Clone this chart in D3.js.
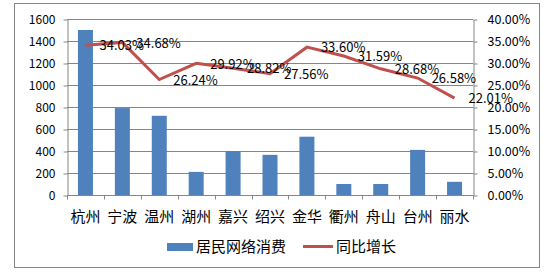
<!DOCTYPE html>
<html>
<head>
<meta charset="utf-8">
<style>
  body { margin: 0; background: #fff; }
  text { font-family: "Noto Sans CJK SC", "Noto Sans", sans-serif; fill: #000; }
</style>
</head>
<body>
<script src="https://cdn.jsdelivr.net/npm/d3@7"></script>
<svg width="550" height="272"></svg>
<script>
const cities = ["杭州", "宁波", "温州", "湖州", "嘉兴", "绍兴", "金华", "衢州", "舟山", "台州", "丽水"]
const spending = [1500, 790, 720, 210, 400, 365, 530, 100, 100, 410, 120]
const growth = [34.03, 34.68, 26.24, 29.92, 28.82, 27.56, 33.60, 31.59, 28.68, 26.58, 22.01]
const leftTicks = [0, 200, 400, 600, 800, 1000, 1200, 1400, 1600]
const rightTicks = [0, 5, 10, 15, 20, 25, 30, 35, 40]
const seriesNames = ["居民网络消费", "同比增长"]

const blue = "#4f81bd", red = "#c0504d", grid = "#868686"
const svg = d3.select("svg")

// outer chart frame
svg.append("rect")
    .attr("x", 14.5).attr("y", 3.5)
    .attr("width", 525).attr("height", 264)
    .attr("fill", "none").attr("stroke", grid)

const plotL = 67, plotR = 473, plotT = 19, plotB = 195

const x = d3.scaleBand().domain(cities).range([plotL, plotR])
const yL = d3.scaleLinear().domain([0, 1600]).range([plotB, plotT])
const yR = d3.scaleLinear().domain([0, 40]).range([plotB, plotT])

// gridlines
svg.append("g").selectAll("line")
    .data(leftTicks.slice(1))
    .enter().append("line")
    .attr("x1", plotL).attr("x2", plotR)
    .attr("y1", d => Math.round(yL(d)) + 0.5).attr("y2", d => Math.round(yL(d)) + 0.5)
    .attr("stroke", grid)

// left axis
const gL = svg.append("g").attr("transform", `translate(${plotL + 0.5},0.5)`)
    .call(d3.axisLeft(yL).tickValues(leftTicks).tickSize(4).tickSizeOuter(0).tickFormat(d3.format("d")))
gL.selectAll("path, line").attr("stroke", grid)
gL.selectAll("text").attr("font-size", 12).attr("x", -12)

// right axis
const gR = svg.append("g").attr("transform", `translate(${plotR + 0.5},0.5)`)
    .call(d3.axisRight(yR).tickValues(rightTicks).tickSize(4).tickSizeOuter(0)
        .tickFormat(d => d.toFixed(2) + "%"))
gR.selectAll("path, line").attr("stroke", grid)
gR.selectAll("text").attr("font-size", 12.5).attr("x", 14)

// bars
svg.append("g").selectAll("rect")
    .data(spending)
    .enter().append("rect")
    .attr("x", (d, i) => x(cities[i]) + x.bandwidth() / 2 - 7.5)
    .attr("width", 15)
    .attr("y", d => yL(d))
    .attr("height", d => plotB - yL(d))
    .attr("fill", blue)

// category axis
const gX = svg.append("g").attr("transform", `translate(0,${plotB + 0.5})`)
gX.append("line").attr("x1", plotL).attr("x2", plotR).attr("stroke", grid)
gX.selectAll("line.tick")
    .data(d3.range(cities.length + 1))
    .enter().append("line")
    .attr("class", "tick")
    .attr("x1", i => Math.round(plotL + i * x.step()) + 0.5)
    .attr("x2", i => Math.round(plotL + i * x.step()) + 0.5)
    .attr("y1", 0).attr("y2", 4)
    .attr("stroke", grid)
gX.selectAll("text")
    .data(cities)
    .enter().append("text")
    .attr("x", d => x(d) + x.bandwidth() / 2)
    .attr("y", 26)
    .attr("text-anchor", "middle")
    .attr("font-size", 15)
    .text(d => d)

// growth line
const line = d3.line()
    .x((d, i) => x(cities[i]) + x.bandwidth() / 2)
    .y(d => yR(d))
svg.append("path")
    .attr("d", line(growth))
    .attr("fill", "none")
    .attr("stroke", red)
    .attr("stroke-width", 3)

svg.append("g").selectAll("text")
    .data(growth)
    .enter().append("text")
    .attr("x", (d, i) => x(cities[i]) + x.bandwidth() / 2 + 14)
    .attr("y", d => yR(d))
    .attr("dy", "0.4em")
    .attr("font-size", 13)
    .text(d => d.toFixed(2) + "%")

// legend
const lg = svg.append("g")
lg.append("rect").attr("x", 167).attr("y", 243).attr("width", 26).attr("height", 8).attr("fill", blue)
lg.append("text").attr("x", 196).attr("y", 252).attr("font-size", 15).text(seriesNames[0])
lg.append("line").attr("x1", 303).attr("x2", 333).attr("y1", 246.5).attr("y2", 246.5)
    .attr("stroke", red).attr("stroke-width", 3)
lg.append("text").attr("x", 336).attr("y", 252).attr("font-size", 15).text(seriesNames[1])
</script>
</body>
</html>
